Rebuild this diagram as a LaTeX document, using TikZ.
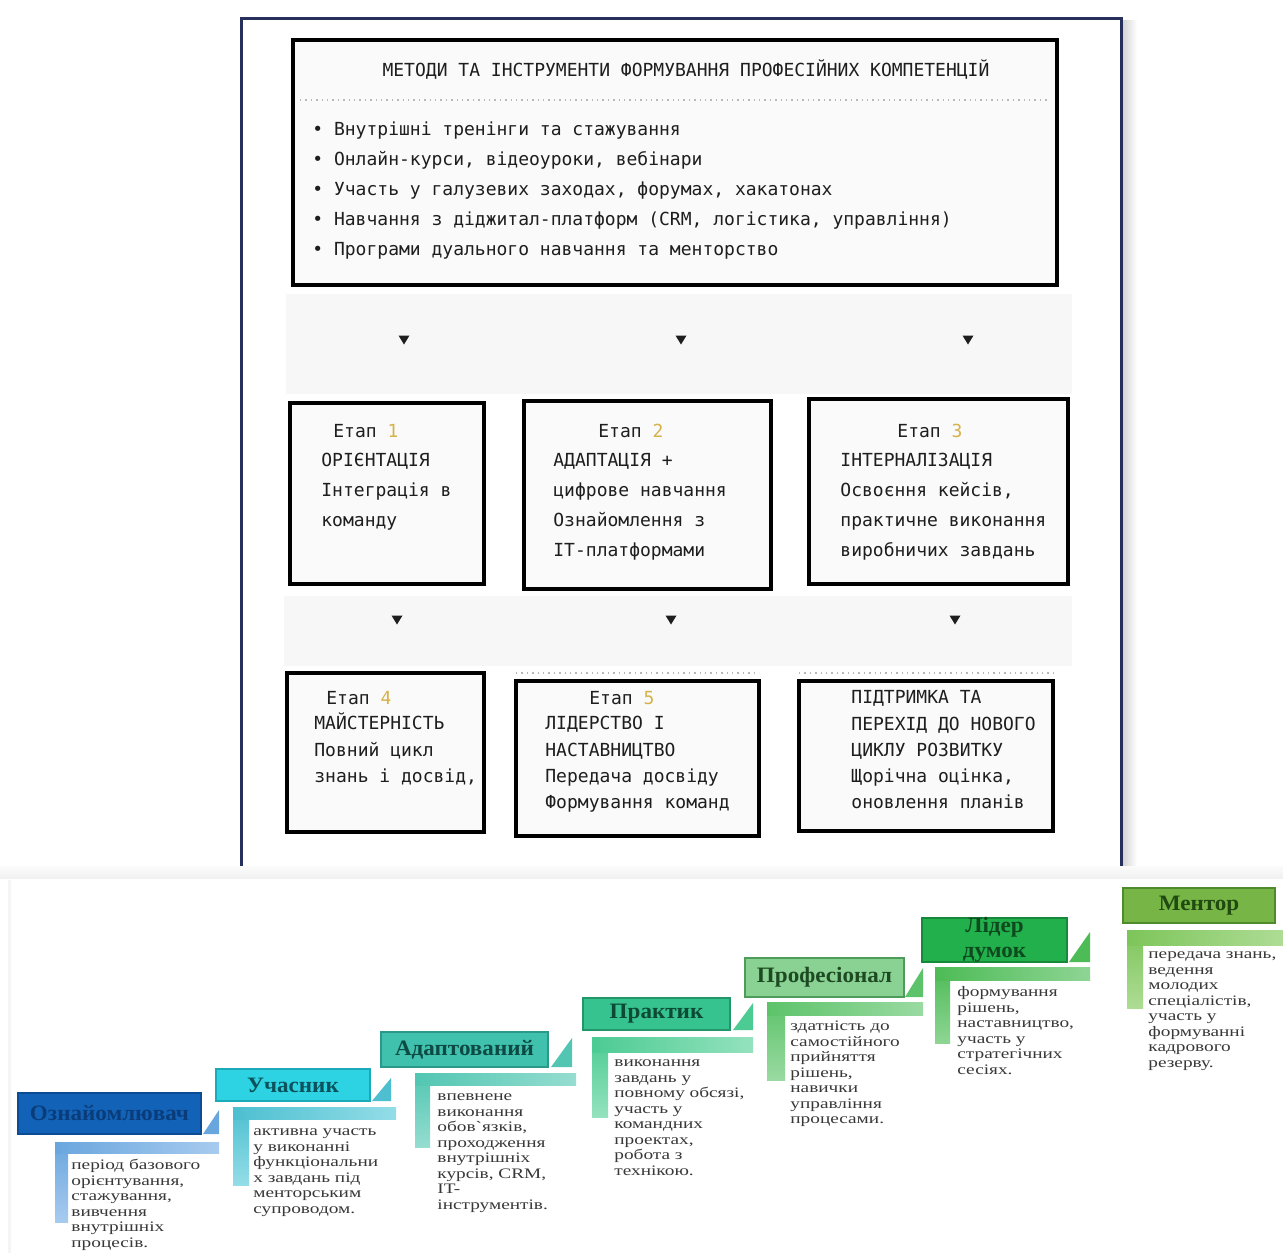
\documentclass[tikz,border=0pt]{standalone}
\usepackage{fontspec}
\usetikzlibrary{fit}
\newfontfamily\monofont{DejaVu Sans Mono}
\newfontfamily\stairserif[FakeStretch=1.33]{Liberation Serif}
\newfontfamily\stairtitlefont[FakeStretch=1.05]{Liberation Serif}

\definecolor{framenavy}{HTML}{27305C}
\definecolor{ink}{HTML}{1E1E1E}
\definecolor{bodyink}{HTML}{383838}
\definecolor{stagenum}{HTML}{D6B24A}
\definecolor{dotgray}{HTML}{B8B8B8}
\definecolor{paper}{HTML}{FAFAFA}
\definecolor{band}{HTML}{F7F7F7}
% step colours: fill, edge, text, bar, light bar
\definecolor{sAfill}{HTML}{1263B8}\definecolor{sAedge}{HTML}{0C4C95}\definecolor{sAtext}{HTML}{0A3C7A}
\definecolor{sAbar}{HTML}{6AA6DE}\definecolor{sAlight}{HTML}{A7CBEF}
\definecolor{sBfill}{HTML}{2DD3E3}\definecolor{sBedge}{HTML}{1CA9B8}\definecolor{sBtext}{HTML}{0B525C}
\definecolor{sBbar}{HTML}{4DBFD0}\definecolor{sBlight}{HTML}{93DDE7}
\definecolor{sCfill}{HTML}{40C1AE}\definecolor{sCedge}{HTML}{2A9989}\definecolor{sCtext}{HTML}{0D4A44}
\definecolor{sCbar}{HTML}{52C6B2}\definecolor{sClight}{HTML}{95DDD0}
\definecolor{sDfill}{HTML}{36C38F}\definecolor{sDedge}{HTML}{23966A}\definecolor{sDtext}{HTML}{0D4A35}
\definecolor{sDbar}{HTML}{4CCB93}\definecolor{sDlight}{HTML}{94E2BE}
\definecolor{sEfill}{HTML}{8AD293}\definecolor{sEedge}{HTML}{4E9C59}\definecolor{sEtext}{HTML}{1D4A22}
\definecolor{sEbar}{HTML}{5DC36A}\definecolor{sElight}{HTML}{9ADAA2}
\definecolor{sFfill}{HTML}{22B04C}\definecolor{sFedge}{HTML}{168A3A}\definecolor{sFtext}{HTML}{0E4A1E}
\definecolor{sFbar}{HTML}{4DBB56}\definecolor{sFlight}{HTML}{8ED594}
\definecolor{sGfill}{HTML}{78B547}\definecolor{sGedge}{HTML}{4F8A2C}\definecolor{sGtext}{HTML}{204A10}
\definecolor{sGbar}{HTML}{7DC55A}\definecolor{sGlight}{HTML}{AEDC95}

\begin{document}
\begin{tikzpicture}[x=0.5pt,y=-0.5pt,
  panel/.style={draw=black, line width=2pt, fill=paper, inner sep=0pt},
  mono/.style={font=\monofont\fontsize{9}{15}\selectfont, text=ink, inner sep=0pt},
  monolines/.style={mono, align=left, anchor=north west},
  monotight/.style={font=\monofont\fontsize{9}{13.1}\selectfont, text=ink, inner sep=0pt, align=left, anchor=north west},
  stepbox/.style={inner sep=0pt, line width=0.6pt},
  steptitle/.style={font=\stairtitlefont\fontsize{11}{12.5}\selectfont\bfseries, align=center, inner sep=0pt},
  stepbody/.style={font=\stairserif\fontsize{7.25}{7.75}\selectfont, text=bodyink, align=left, anchor=north west, inner sep=0pt},
  downtri/.pic={\fill[ink] (-5.5,-4.5) -- (5.5,-4.5) -- (0,4.5) -- cycle;}
]
\useasboundingbox (0,0) rectangle (1283,1253);
\fill[white] (0,0) rectangle (1283,1253);

% ---------- framed scheme of methods and stages ----------
\shade[left color=gray!35, right color=white] (1122,20) rectangle (1137,878);
\fill[white] (242,19) rectangle (1120,878);
\fill[band] (286,294) rectangle (1072,394);
\fill[band] (284,596) rectangle (1072,666);
\draw[framenavy, line width=1.5pt] (241,879) -- (241,18) -- (1121,18) -- (1121,879);

\node[panel, fit={(293,40)(1057,285)}] (methods) {};
\draw[dotgray, dotted, line width=0.7pt] (300,100) -- (1050,100);
\node[mono] (methodsTitle) at (686,70) {МЕТОДИ ТА ІНСТРУМЕНТИ ФОРМУВАННЯ ПРОФЕСІЙНИХ КОМПЕТЕНЦІЙ};
\node[monolines] (methodsList) at (312,114.4) {\strut • Внутрішні тренінги та стажування\\
• Онлайн-курси, відеоуроки, вебінари\\
• Участь у галузевих заходах, форумах, хакатонах\\
• Навчання з діджитал-платформ (CRM, логістика, управління)\\
• Програми дуального навчання та менторство};

\pic at (404,340) {downtri};
\pic at (681,340) {downtri};
\pic at (968,340) {downtri};

% stages 1-3
\node[panel, fit={(290,403)(484,584)}] (stage1) {};
\node[mono, anchor=west] (stage1head) at (333,431) {Етап \textcolor{stagenum}{1}};
\node[monolines] (stage1body) at (321,445.4) {\strut ОРІЄНТАЦІЯ\\Інтеграція в\\команду};

\node[panel, fit={(524,401)(771,589)}] (stage2) {};
\node[mono, anchor=west] (stage2head) at (598,431) {Етап \textcolor{stagenum}{2}};
\node[monolines] (stage2body) at (553,445.4) {\strut АДАПТАЦІЯ +\\цифрове навчання\\Ознайомлення з\\IT-платформами};

\node[panel, fit={(809,399)(1068,584)}] (stage3) {};
\node[mono, anchor=west] (stage3head) at (897,431) {Етап \textcolor{stagenum}{3}};
\node[monolines] (stage3body) at (840,445.4) {\strut ІНТЕРНАЛІЗАЦІЯ\\Освоєння кейсів,\\практичне виконання\\виробничих завдань};

\pic at (397,620) {downtri};
\pic at (671,620) {downtri};
\pic at (955,620) {downtri};

% stages 4-5 and the closing block
\draw[dotgray, dotted, line width=0.7pt] (516,673) -- (759,673);
\draw[dotgray, dotted, line width=0.7pt] (799,673) -- (1053,673);

\node[panel, fit={(287,673)(484,832)}] (stage4) {};
\node[mono, anchor=west] (stage4head) at (326,698) {Етап \textcolor{stagenum}{4}};
\node[monotight] (stage4body) at (314,711.1) {\strut МАЙСТЕРНІСТЬ\\Повний цикл\\знань і досвід,};

\node[panel, fit={(516,681)(759,836)}] (stage5) {};
\node[mono, anchor=west] (stage5head) at (589,698) {Етап \textcolor{stagenum}{5}};
\node[monotight] (stage5body) at (545,711.1) {\strut ЛІДЕРСТВО І\\НАСТАВНИЦТВО\\Передача досвіду\\Формування команд};

\node[panel, fit={(799,681)(1053,831)}] (stage6) {};
\node[monotight] (stage6body) at (851,685.1) {\strut ПІДТРИМКА ТА\\ПЕРЕХІД ДО НОВОГО\\ЦИКЛУ РОЗВИТКУ\\Щорічна оцінка,\\оновлення планів};

% ---------- staircase of roles ----------
\shade[top color=gray!3, bottom color=gray!12] (0,866) rectangle (1283,879);
\fill[white] (0,879) rectangle (1283,1253);
\fill[gray!8] (8,880) rectangle (11,1253);

% 1
\shade[top color=sAbar, bottom color=sAlight] (55,1142) rectangle (68,1222);
\shade[left color=sAbar, right color=sAlight] (55,1142) rectangle (219,1153);
\fill[sAbar] (203,1134) -- (219,1134) -- (219,1110) -- cycle;
\node[stepbox, fill=sAfill, draw=sAedge, fit={(18,1093)(201,1134)}] (roleA) {};
\node[steptitle, text=sAtext] (roleAname) at (roleA.center) {Ознайомлювач};
\node[stepbody] (roleAtext) at (71,1158.6) {\strut період базового\\орієнтування,\\стажування,\\вивчення\\внутрішніх\\процесів.};

% 2
\shade[top color=sBbar, bottom color=sBlight] (233,1107) rectangle (249,1185);
\shade[left color=sBbar, right color=sBlight] (233,1107) rectangle (396,1119);
\fill[sBbar] (372,1101) -- (391,1101) -- (391,1078) -- cycle;
\node[stepbox, fill=sBfill, draw=sBedge, fit={(216,1069)(370,1101)}] (roleB) {};
\node[steptitle, text=sBtext] (roleBname) at (roleB.center) {Учасник};
\node[stepbody] (roleBtext) at (253,1124.6) {\strut активна участь\\у виконанні\\функціональни\\х завдань під\\менторським\\супроводом.};

% 3
\shade[top color=sCbar, bottom color=sClight] (415,1073) rectangle (430,1147);
\shade[left color=sCbar, right color=sClight] (415,1073) rectangle (576,1085);
\fill[sCbar] (551,1067) -- (572,1067) -- (572,1038) -- cycle;
\node[stepbox, fill=sCfill, draw=sCedge, fit={(381,1032)(548,1067)}] (roleC) {};
\node[steptitle, text=sCtext] (roleCname) at (roleC.center) {Адаптований};
\node[stepbody] (roleCtext) at (437,1089.6) {\strut впевнене\\виконання\\обов`язків,\\проходження\\внутрішніх\\курсів, CRM,\\IT-\\інструментів.};

% 4
\shade[top color=sDbar, bottom color=sDlight] (592,1037) rectangle (608,1117);
\shade[left color=sDbar, right color=sDlight] (592,1037) rectangle (753,1052);
\fill[sDbar] (733,1030) -- (753,1030) -- (753,1003) -- cycle;
\node[stepbox, fill=sDfill, draw=sDedge, fit={(583,998)(730,1030)}] (roleD) {};
\node[steptitle, text=sDtext] (roleDname) at (roleD.center) {Практик};
\node[stepbody] (roleDtext) at (614,1055.6) {\strut виконання\\завдань у\\повному обсязі,\\участь у\\командних\\проектах,\\робота з\\технікою.};

% 5
\shade[top color=sEbar, bottom color=sElight] (767,1002) rectangle (785,1080);
\shade[left color=sEbar, right color=sElight] (767,1002) rectangle (923,1015);
\fill[sEbar] (905,997) -- (923,997) -- (923,968) -- cycle;
\node[stepbox, fill=sEfill, draw=sEedge, fit={(745,958)(904,997)}] (roleE) {};
\node[steptitle, text=sEtext] (roleEname) at (roleE.center) {Професіонал};
\node[stepbody] (roleEtext) at (790,1019.6) {\strut здатність до\\самостійного\\прийняття\\рішень,\\навички\\управління\\процесами.};

% 6
\shade[top color=sFbar, bottom color=sFlight] (935,967) rectangle (950,1043);
\shade[left color=sFbar, right color=sFlight] (935,967) rectangle (1090,980);
\fill[sFbar] (1069,962) -- (1090,962) -- (1090,932) -- cycle;
\node[stepbox, fill=sFfill, draw=sFedge, fit={(922,918)(1067,962)}] (roleF) {};
\node[steptitle, text=sFtext] (roleFname) at (roleF.center) {Лідер\\думок};
\node[stepbody] (roleFtext) at (957,985.6) {\strut формування\\рішень,\\наставництво,\\участь у\\стратегічних\\сесіях.};

% 7
\shade[top color=sGbar, bottom color=sGlight] (1127,930) rectangle (1143,1008);
\shade[left color=sGbar, right color=sGlight] (1127,930) rectangle (1283,945);
\node[stepbox, fill=sGfill, draw=sGedge, fit={(1123,888)(1275,923)}] (roleG) {};
\node[steptitle, text=sGtext] (roleGname) at (roleG.center) {Ментор};
\node[stepbody] (roleGtext) at (1148,947.6) {\strut передача знань,\\ведення\\молодих\\спеціалістів,\\участь у\\формуванні\\кадрового\\резерву.};
\end{tikzpicture}
\end{document}
